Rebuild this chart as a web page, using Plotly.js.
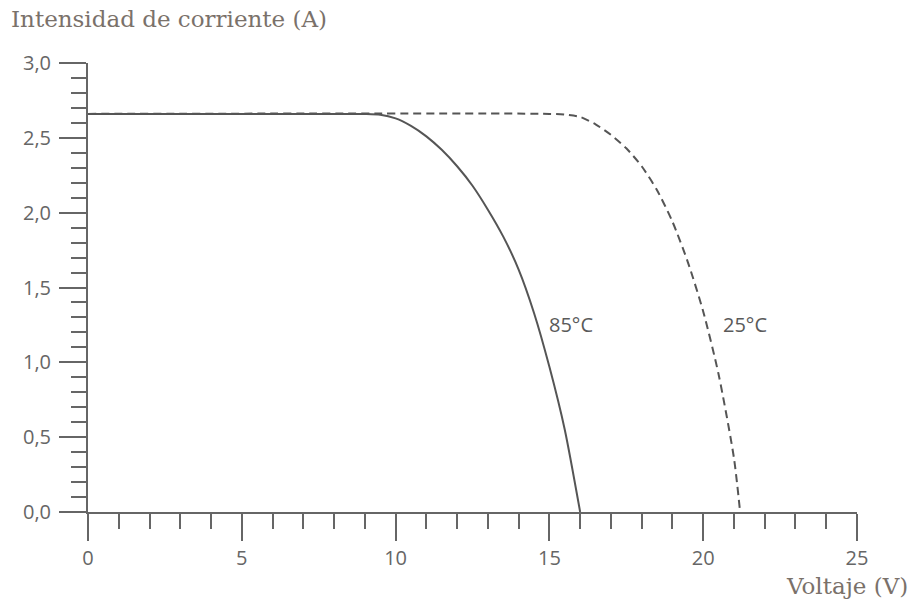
<!DOCTYPE html>
<html>
<head>
<meta charset="utf-8">
<script src="https://cdn.plot.ly/plotly-3.0.1.min.js"></script>
<style>html,body{margin:0;padding:0;background:#fff}#chart{width:914px;height:600px}</style>
</head>
<body>
<div id="chart"></div>
<script>
// Data (Voltage in V, Current in A)
var v85 = [0, 9.0, 9.5, 10.0, 10.5, 11.0, 11.5, 12.0, 12.5, 13.0, 13.5, 14.0, 14.5, 15.0, 15.5, 16.0];
var i85 = [2.66, 2.66, 2.655, 2.63, 2.58, 2.51, 2.42, 2.31, 2.18, 2.02, 1.84, 1.62, 1.33, 0.97, 0.55, 0.0];
var v25 = [0, 15.0, 15.5, 16.0, 16.5, 17.0, 17.5, 18.0, 18.5, 19.0, 19.5, 20.0, 20.5, 21.0, 21.2];
var i25 = [2.66, 2.66, 2.655, 2.64, 2.59, 2.52, 2.43, 2.31, 2.15, 1.94, 1.67, 1.34, 0.92, 0.36, 0.0];
var xTicks = [0, 5, 10, 15, 20, 25];
var yTicks = [0, 0.5, 1.0, 1.5, 2.0, 2.5, 3.0];
var label85 = "85°C", label25 = "25°C";
var yTitle = "Intensidad de corriente (A)";
var xTitle = "Voltaje (V)";

var lineCol = "#555555";
var axisCol = "#666666";
var tickFont = {family: "Open Sans", size: 20, color: "#666666"};
var titleFont = {family: "DejaVu Serif", size: 23, color: "#7a716a"};
var labelFont = {family: "Open Sans", size: 20, color: "#5a5a5a"};

var traces = [
  {x: v25, y: i25, mode: "lines", line: {color: lineCol, width: 2, dash: "8px,5px", shape: "spline", smoothing: 0.7}, hoverinfo: "skip"},
  {x: v85, y: i85, mode: "lines", line: {color: lineCol, width: 2, shape: "spline", smoothing: 0.7}, hoverinfo: "skip"}
];

var layout = {
  width: 914, height: 600,
  margin: {l: 88, r: 57, t: 63, b: 88},
  paper_bgcolor: "#fff", plot_bgcolor: "#fff",
  showlegend: false,
  separators: ",.",
  title: {text: yTitle, font: titleFont, x: 11/914, xanchor: "left", xref: "container",
          y: 1 - 19/600, yanchor: "middle", yref: "container"},
  xaxis: {
    range: [0, 25], showgrid: false, zeroline: false,
    showline: true, linecolor: axisCol, linewidth: 2,
    tickmode: "array", tickvals: xTicks, ticks: "outside", ticklen: 27, tickwidth: 2, tickcolor: axisCol,
    tickfont: tickFont, ticklabelstandoff: 0,
    minor: {dtick: 1, ticks: "outside", ticklen: 15, tickwidth: 2, tickcolor: axisCol, showgrid: false}
  },
  yaxis: {
    range: [0, 3], showgrid: false, zeroline: false,
    showline: true, linecolor: axisCol, linewidth: 2,
    tickmode: "array", tickvals: yTicks, tickformat: ".1f", ticks: "outside", ticklen: 27, tickwidth: 2, tickcolor: axisCol,
    tickfont: tickFont, ticklabelstandoff: 4,
    minor: {dtick: 0.1, ticks: "outside", ticklen: 15, tickwidth: 2, tickcolor: axisCol, showgrid: false}
  },
  annotations: [
    {x: 15.7, y: 1.25, xref: "x", yref: "y", text: label85, showarrow: false, font: labelFont},
    {x: 21.35, y: 1.25, xref: "x", yref: "y", text: label25, showarrow: false, font: labelFont},
    {x: 1, y: 0, xref: "paper", yref: "paper", xanchor: "right", yanchor: "top", xshift: 53, yshift: -59,
     text: xTitle, showarrow: false, font: titleFont}
  ]
};

Plotly.newPlot("chart", traces, layout, {staticPlot: true, displayModeBar: false});
</script>
</body>
</html>
